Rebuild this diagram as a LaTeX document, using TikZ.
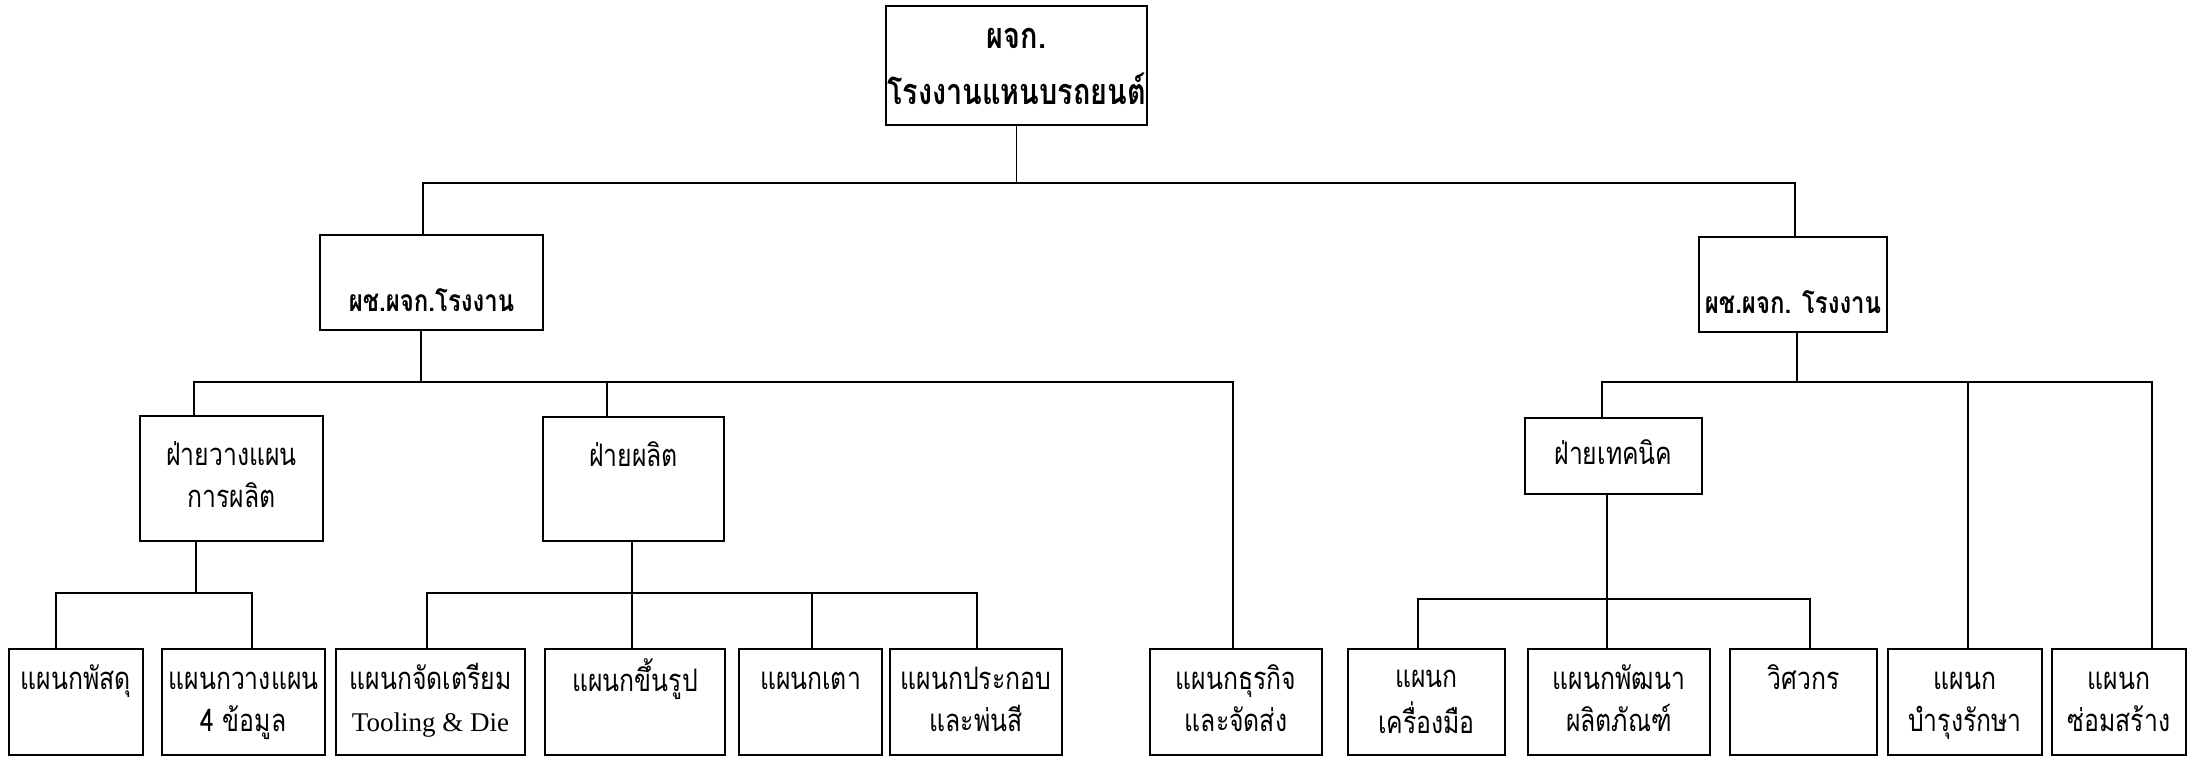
\documentclass[tikz,border=0pt]{standalone}
\usepackage{fontspec}
\setmainfont{Liberation Serif}
\newfontfamily\thai[Script=Thai,FakeStretch=0.8]{Loma}
\begin{document}
\begin{tikzpicture}[x=1pt,y=-1pt,
  box/.style={draw, line width=2.6pt, inner sep=0pt, align=center,
    font=\thai\fontsize{31}{42}\selectfont},
  bigbox/.style={box, font=\thai\bfseries\fontsize{36}{56}\selectfont},
  midbox/.style={box, font=\thai\bfseries\fontsize{30}{42}\selectfont},
  conn/.style={line width=1.3pt}]
\useasboundingbox (0,0) rectangle (2188,758);
% level 1
\node[bigbox, minimum width=261pt, minimum height=119pt] (top) at (1016.5,65.5) {\strut ผจก.\\\strut โรงงานแหนบรถยนต์};
% level 2
\node[midbox, minimum width=223pt, minimum height=95pt] (L2a) at (431.5,282.5) {\strut\\\strut ผช.ผจก.โรงงาน};
\node[midbox, minimum width=188pt, minimum height=95pt] (L2b) at (1793,284.5) {\strut\\\strut ผช.ผจก. โรงงาน};
% level 3
\node[box, minimum width=183pt, minimum height=125pt] (L3a) at (231.5,478.5) {\strut ฝ่ายวางแผน\\\strut การผลิต};
\node[box, minimum width=181pt, minimum height=124pt] (L3b) at (633.5,479) {\strut ฝ่ายผลิต\\\strut};
\node[box, minimum width=177pt, minimum height=76pt] (L3c) at (1613.5,456) {\strut ฝ่ายเทคนิค};
% level 4
\tikzset{leaf/.style={box, minimum height=106pt}}
\node[leaf, minimum width=134pt] (b1) at (76,702) {\strut แผนกพัสดุ\\\strut};
\node[leaf, minimum width=163pt] (b2) at (243.5,702) {\strut แผนกวางแผน\\\strut 4 ข้อมูล};
\node[leaf, minimum width=189pt] (b3) at (430.5,702) {\strut แผนกจัดเตรียม\\\strut{\rmfamily\fontsize{27}{42}\selectfont Tooling \& Die}};
\node[leaf, minimum width=180pt] (b4) at (635,702) {\strut แผนกขึ้นรูป\\\strut};
\node[leaf, minimum width=143pt] (b5) at (810.5,702) {\strut แผนกเตา\\\strut};
\node[leaf, minimum width=172pt] (b6) at (976,702) {\strut แผนกประกอบ\\\strut และพ่นสี};
\node[leaf, minimum width=172pt] (b7) at (1236,702) {\strut แผนกธุรกิจ\\\strut และจัดส่ง};
\node[leaf, minimum width=157pt] (b8) at (1426.5,702) {\strut แผนก\\\strut เครื่องมือ};
\node[leaf, minimum width=182pt] (b9) at (1619,702) {\strut แผนกพัฒนา\\\strut ผลิตภัณฑ์};
\node[leaf, minimum width=147pt] (b10) at (1803.5,702) {\strut วิศวกร\\\strut};
\node[leaf, minimum width=154pt] (b11) at (1965,702) {\strut แผนก\\\strut บำรุงรักษา};
\node[leaf, minimum width=134pt] (b12) at (2119,702) {\strut แผนก\\\strut ซ่อมสร้าง};
% bus levels
\coordinate (y1) at (0,183);
\coordinate (y2) at (0,382);
\coordinate (y3) at (0,593);
\coordinate (y4) at (0,599);
% attachment points
\coordinate (pL2a) at ([xshift=-8.5pt]L2a.north);
\coordinate (pL2b) at ([xshift=2pt]L2b.north);
\coordinate (qL2a) at ([xshift=-10.5pt]L2a.south);
\coordinate (qL2b) at ([xshift=4pt]L2b.south);
\coordinate (pL3a) at ([xshift=-37.5pt]L3a.north);
\coordinate (qL3a) at ([xshift=-35.5pt]L3a.south);
\coordinate (pL3b) at ([xshift=-26.5pt]L3b.north);
\coordinate (qL3b) at ([xshift=-1.5pt]L3b.south);
\coordinate (pL3c) at ([xshift=-11.5pt]L3c.north);
\coordinate (qL3c) at ([xshift=-6.5pt]L3c.south);
\coordinate (p1) at ([xshift=-20pt]b1.north);
\coordinate (p2) at ([xshift=8.5pt]b2.north);
\coordinate (p3) at ([xshift=-3.5pt]b3.north);
\coordinate (p4) at ([xshift=-3pt]b4.north);
\coordinate (p5) at ([xshift=1.5pt]b5.north);
\coordinate (p6) at ([xshift=1pt]b6.north);
\coordinate (p7) at ([xshift=-3pt]b7.north);
\coordinate (p8) at ([xshift=-8.5pt]b8.north);
\coordinate (p9) at ([xshift=-12pt]b9.north);
\coordinate (p10) at ([xshift=6.5pt]b10.north);
\coordinate (p11) at ([xshift=3pt]b11.north);
\coordinate (p12) at ([xshift=33pt]b12.north);
% connectors
\draw[conn] (top.south) -- (top.south |- y1);
\draw[conn] (pL2a) |- (pL2b |- y1) -- (pL2b);
\draw[conn] (qL2a) -- (qL2a |- y2);
\draw[conn] (pL3a) |- (p7 |- y2) -- (p7);
\draw[conn] (pL3b) -- (pL3b |- y2);
\draw[conn] (qL3a) -- (qL3a |- y3);
\draw[conn] (p1) |- (p2 |- y3) -- (p2);
\draw[conn] (qL3b) -- (p4);
\draw[conn] (p3) |- (p6 |- y3) -- (p6);
\draw[conn] (p5) -- (p5 |- y3);
\draw[conn] (qL2b) -- (qL2b |- y2);
\draw[conn] (pL3c) |- (p12 |- y2) -- (p12);
\draw[conn] (p11) -- (p11 |- y2);
\draw[conn] (qL3c) -- (p9);
\draw[conn] (p8) |- (p10 |- y4) -- (p10);
\end{tikzpicture}
\end{document}
